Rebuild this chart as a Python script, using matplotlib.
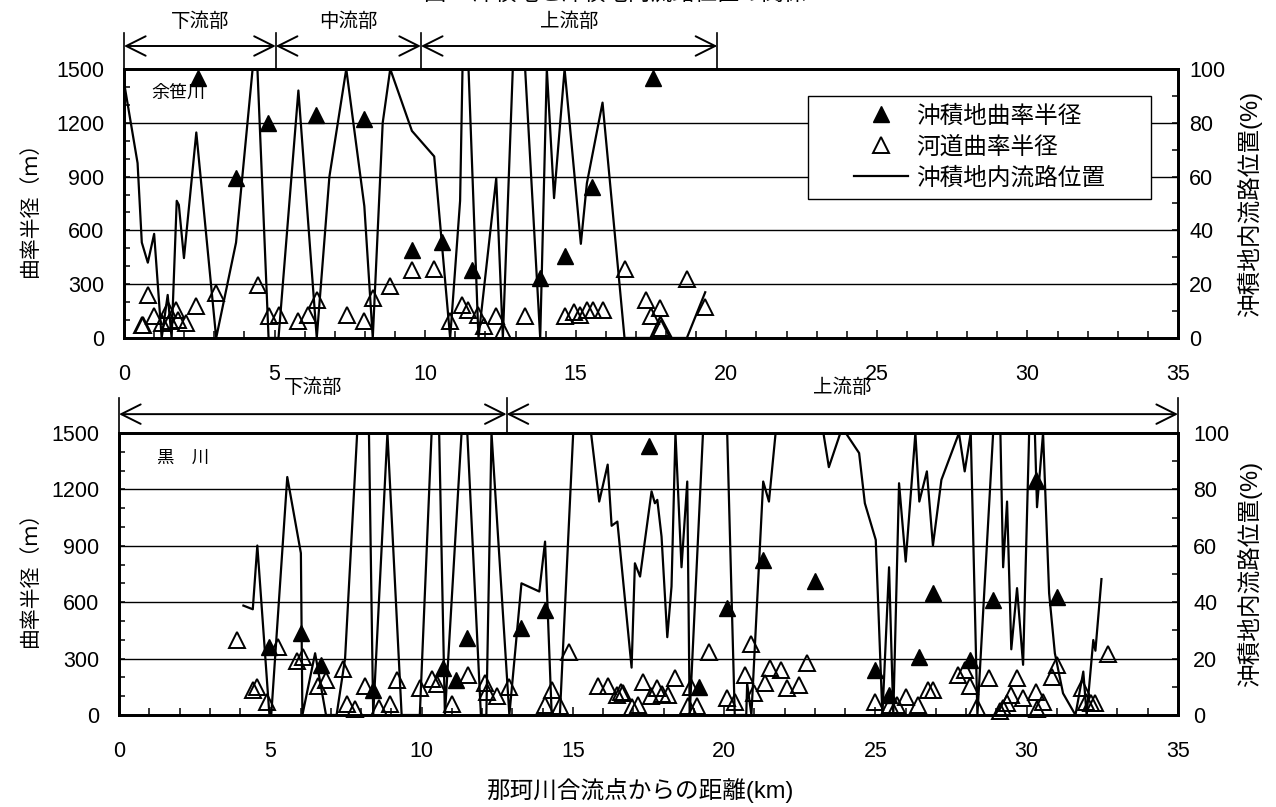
import matplotlib
matplotlib.use("Agg")
import matplotlib.pyplot as plt
from matplotlib.lines import Line2D
from matplotlib.patches import Rectangle
from matplotlib.ticker import MultipleLocator

plt.rcParams['font.family'] = ['Liberation Sans Narrow', 'Liberation Sans', 'Noto Sans CJK JP']

# ---- 余笹川 (上段) ----
yosasa_sections = ['下流部', '中流部', '上流部']
yosasa_bounds = [0, 5.04, 9.86, 19.7]

yosasa_line_km = [0.03, 0.45, 0.59, 0.79, 1.0, 1.25, 1.45, 1.58, 1.75, 1.82, 1.99, 2.4,
                  3.06, 3.72, 4.27, 4.43, 4.8, 5.13, 5.79, 6.4, 6.82, 7.38, 7.98, 8.26,
                  8.59, 8.84, 9.56, 10.3, 10.83, 11.16, 11.24, 11.44, 11.77, 12.36, 12.58,
                  12.91, 13.32, 13.82, 14.04, 14.28, 14.63, 15.17, 15.37, 15.89, 16.62,
                  17.48, 17.81, 18.19, 18.69, 19.3]
yosasa_line_pct = [93, 65, 35.5, 28, 38.7, 0, 16, 0, 51, 49.5, 29.7, 76.4,
                   0, 35.5, 100, 100, 0, 0, 92, 0, 60, 100, 49, 0,
                   80, 100, 77, 67.5, 0, 51, 100, 100, 0, 59.4, 0,
                   100, 100, 0, 100, 52, 100, 35, 57.5, 87.5, 0,
                   0, 8, 0, 0, 17]

yosasa_valley_km = [2.44, 3.71, 4.78, 6.38, 7.97, 9.56, 10.57, 11.57, 13.82, 14.63, 15.54, 17.55]
yosasa_valley_r = [1448, 891, 1197, 1244, 1220, 488, 533, 377, 334, 455, 841, 1448]

yosasa_channel_km = [0.6, 0.64, 0.81, 1.0, 1.25, 1.45, 1.53, 1.73, 1.8, 2.06, 2.4, 3.06,
                     4.45, 4.8, 5.13, 5.79, 6.12, 6.4, 7.4, 7.97, 8.26, 8.84, 9.56, 10.3,
                     10.83, 11.22, 11.41, 11.75, 11.96, 12.36, 12.57, 13.3, 14.63, 14.93,
                     15.15, 15.37, 15.57, 15.89, 16.62, 17.34, 17.5, 17.81, 17.83, 18.69, 19.3]
yosasa_channel_r = [74, 70, 241, 121, 84, 158, 93, 158, 102, 84, 176, 251,
                    297, 121, 130, 93, 130, 213, 130, 93, 223, 288, 377, 384,
                    93, 186, 154, 130, 69, 124, 37, 121, 121, 143,
                    130, 154, 154, 154, 384, 210, 124, 167, 56, 329, 173]

# ---- 黒川 (下段) ----
kuro_sections = ['下流部', '上流部']
kuro_bounds = [0, 12.81, 35]

kuro_line_km = [4.11, 4.42, 4.57, 4.97, 5.03, 5.56, 6.01, 6.06, 6.48, 6.84, 7.19, 7.47,
                7.87, 8.26, 8.4, 8.87, 9.34, 9.94, 10.33, 10.58, 10.77, 11.32, 11.51,
                11.96, 12.14, 12.31, 12.9, 13.3, 13.89, 14.08, 14.3, 14.57, 15.01, 15.6,
                15.87, 16.15, 16.28, 16.47, 16.94, 17.05, 17.22, 17.6, 17.71, 17.79,
                17.93, 18.12, 18.26, 18.39, 18.59, 18.78, 18.86, 19.3, 20.1, 20.35,
                20.73, 20.76, 20.9, 21.29, 21.48, 21.7, 23.28, 23.46, 23.84, 24.02,
                24.46, 24.65, 25.01, 25.23, 25.45, 25.59, 25.78, 26.0, 26.32, 26.45,
                26.7, 26.9, 27.18, 27.76, 27.95, 28.15, 28.37, 28.89, 29.13, 29.22,
                29.35, 29.49, 29.68, 29.88, 30.08, 30.27, 30.34, 30.54, 30.74, 30.93,
                31.2, 31.61, 31.87, 31.98, 32.2, 32.27, 32.47]
kuro_line_pct = [38.8, 37.5, 60.1, 0, 0, 84.4, 57.4, 0, 21.9, 0, 0, 20,
                 100, 100, 0, 100, 0, 0, 100, 100, 0, 100, 100,
                 0, 0, 100, 0, 46.7, 43.8, 61.5, 0, 0, 100, 100,
                 75.7, 88.8, 67.1, 68.6, 16.8, 53.8, 49.1, 79.3, 75.1, 76.3,
                 63.3, 27.6, 45.6, 100, 52.4, 82.8, 0, 100, 100, 0,
                 0, 11.2, 0, 82.8, 75.7, 100, 100, 87.9, 100, 100,
                 92.9, 75.1, 62.1, 0, 52.4, 0, 82.2, 54.4, 100, 75.7,
                 86.4, 60.1, 83.4, 100, 86.4, 100, 0, 100, 100, 52.4,
                 75.7, 23.3, 45, 17.8, 100, 100, 73.7, 100, 43.2, 21.9,
                 7.7, 0, 15.4, 0, 26.6, 22.8, 48.2]

kuro_valley_km = [4.97, 6.01, 6.66, 8.4, 10.72, 11.14, 11.51, 13.28, 14.08, 17.52, 19.17,
                  20.1, 21.29, 23.0, 24.98, 25.44, 26.44, 26.9, 28.14, 28.89, 30.32, 31.0]
kuro_valley_r = [364, 435, 266, 133, 249, 186, 408, 462, 559, 1429, 151,
                 568, 825, 714, 240, 107, 311, 651, 293, 612, 1252, 630]

kuro_channel_km = [3.91, 4.42, 4.55, 4.88, 5.26, 5.87, 6.09, 6.59, 6.84, 7.41, 7.55, 7.8,
                   8.13, 8.6, 8.95, 9.2, 9.94, 10.33, 10.52, 11.0, 11.52, 12.1, 12.15,
                   12.5, 12.9, 14.07, 14.3, 14.57, 14.88, 15.84, 16.17, 16.46, 16.58,
                   16.66, 16.97, 17.16, 17.32, 17.57, 17.77, 17.96, 18.15, 18.37, 18.79,
                   18.92, 19.09, 19.5, 20.1, 20.35, 20.68, 20.88, 20.98, 21.36, 21.51,
                   21.87, 22.08, 22.48, 22.74, 24.98, 25.48, 25.7, 26.0, 26.4, 26.74,
                   26.9, 27.73, 27.95, 28.14, 28.36, 28.74, 29.11, 29.22, 29.35, 29.49,
                   29.68, 29.88, 30.3, 30.34, 30.54, 30.82, 31.0, 31.83, 31.95, 32.14,
                   32.25, 32.67]
kuro_channel_r = [399, 133, 147, 71, 364, 289, 311, 154, 186, 243, 59, 30,
                  154, 35, 59, 186, 142, 190, 165, 59, 213, 169, 124,
                  101, 151, 53, 133, 48, 337, 154, 154, 107, 124,
                  119, 44, 53, 178, 101, 142, 112, 107, 195, 48,
                  151, 48, 337, 89, 71, 213, 376, 115, 169, 249,
                  240, 142, 160, 279, 71, 53, 53, 98, 53, 133,
                  133, 213, 240, 154, 41, 195, 23, 35, 62, 107,
                  195, 89, 124, 30, 71, 204, 266, 142, 71, 62,
                  66, 325]

legend_labels = ['沖積地曲率半径', '河道曲率半径', '沖積地内流路位置']

TICK_FS = 15.5


def style_panel(ax, axr, rpad):
    ax.set_xlim(0, 35)
    ax.set_ylim(0, 1500)
    axr.set_ylim(0, 100)
    ax.xaxis.set_major_locator(MultipleLocator(5))
    ax.xaxis.set_minor_locator(MultipleLocator(1))
    ax.yaxis.set_major_locator(MultipleLocator(300))
    ax.yaxis.set_minor_locator(MultipleLocator(100))
    axr.yaxis.set_major_locator(MultipleLocator(20))
    axr.yaxis.set_minor_locator(MultipleLocator(10))
    ax.tick_params(axis='x', which='both', direction='in', width=1.1, pad=19, labelsize=TICK_FS)
    ax.tick_params(axis='x', which='major', length=6)
    ax.tick_params(axis='x', which='minor', length=5)
    ax.tick_params(axis='y', which='both', direction='in', width=1.1, length=4, pad=14, labelsize=TICK_FS)
    axr.tick_params(axis='y', which='both', direction='in', width=1.1, length=4, pad=rpad, labelsize=TICK_FS)
    ax.grid(axis='y', color='black', lw=1.0)
    for a in (ax, axr):
        for sp in a.spines.values():
            sp.set_linewidth(2.0)


def draw_data(ax, axr, line_km, line_pct, valley_km, valley_r, channel_km, channel_r):
    axr.plot(line_km, line_pct, color='black', lw=1.6, zorder=3)
    ax.plot(channel_km, channel_r, ls='none', marker='^', ms=11.5, mfc='none',
            mec='black', mew=1.4, zorder=3, clip_on=False)
    ax.plot(valley_km, valley_r, ls='none', marker='^', ms=11.5, color='black',
            zorder=3, clip_on=False)


def draw_sections(ax, bounds, names, y_arrow, y_bar, y_text):
    tr = ax.get_xaxis_transform()
    for xb in bounds:
        ax.plot([xb, xb], [1.0, y_bar], transform=tr, color='black', lw=1.2, clip_on=False)
    for x0, x1, name in zip(bounds[:-1], bounds[1:], names):
        ax.annotate('', xy=(x1, y_arrow), xytext=(x0, y_arrow), xycoords=tr, textcoords=tr,
                    arrowprops=dict(arrowstyle='<->,head_length=1.4,head_width=0.7', lw=1.4,
                                    color='black', shrinkA=0, shrinkB=0, mutation_scale=10),
                    annotation_clip=False)
        ax.text((x0 + x1) / 2, y_text, name, transform=tr, ha='center', va='center', fontsize=14)


fig = plt.figure(figsize=(12.76, 8.07), dpi=100)

# 上段: 余笹川
ax1 = fig.add_axes([0.0972, 0.5812, 0.8260, 0.3333])
ax1r = ax1.twinx()
style_panel(ax1, ax1r, rpad=8)
draw_data(ax1, ax1r, yosasa_line_km, yosasa_line_pct, yosasa_valley_km, yosasa_valley_r,
          yosasa_channel_km, yosasa_channel_r)
draw_sections(ax1, yosasa_bounds, yosasa_sections, 1.0855, 1.134, 1.175)
ax1.text(0.0512, 0.911, '余笹川', transform=ax1.transAxes, ha='center', va='center', fontsize=13)

# 凡例
ax1r.add_patch(Rectangle((0.649, 0.517), 0.325, 0.383, transform=ax1r.transAxes,
                         fc='white', ec='black', lw=1.0, zorder=5))
handles = [Line2D([], [], ls='none', marker='^', ms=11.5, color='black'),
           Line2D([], [], ls='none', marker='^', ms=11.5, mfc='none', mec='black', mew=1.4),
           Line2D([], [], color='black', lw=1.6)]
leg = ax1r.legend(handles, legend_labels, loc='center', bbox_to_anchor=(0.8115, 0.7085),
                  bbox_transform=ax1r.transAxes, frameon=False, fontsize=17,
                  handlelength=2.3, handletextpad=0.34, labelspacing=0.36, borderpad=0)
leg.set_zorder(6)

# 下段: 黒川
ax2 = fig.add_axes([0.0933, 0.1140, 0.8299, 0.3494])
ax2r = ax2.twinx()
style_panel(ax2, ax2r, rpad=11)
draw_data(ax2, ax2r, kuro_line_km, kuro_line_pct, kuro_valley_km, kuro_valley_r,
          kuro_channel_km, kuro_channel_r)
draw_sections(ax2, kuro_bounds, kuro_sections, 1.067, 1.124, 1.16)
ax2.text(0.0604, 0.911, '黒　川', transform=ax2.transAxes, ha='center', va='center', fontsize=12.5)

# ラベル類
W, H = 1276, 807
fig.text(615 / W, 1 + 5 / H, '図-3 沖積地と沖積地内流路位置の関係', ha='center', va='center', fontsize=16)
for yc in (203.5, 574):
    fig.text(30 / W, 1 - yc / H, '曲率半径（ｍ）', rotation=90, ha='center', va='center', fontsize=15)
    fig.text(1250 / W, 1 - yc / H, '沖積地内流路位置(%)', rotation=90, ha='center', va='center', fontsize=17)
fig.text(640 / W, 1 - 790 / H, '那珂川合流点からの距離(km)', ha='center', va='center', fontsize=17)

fig.savefig('out.png', dpi=100)
